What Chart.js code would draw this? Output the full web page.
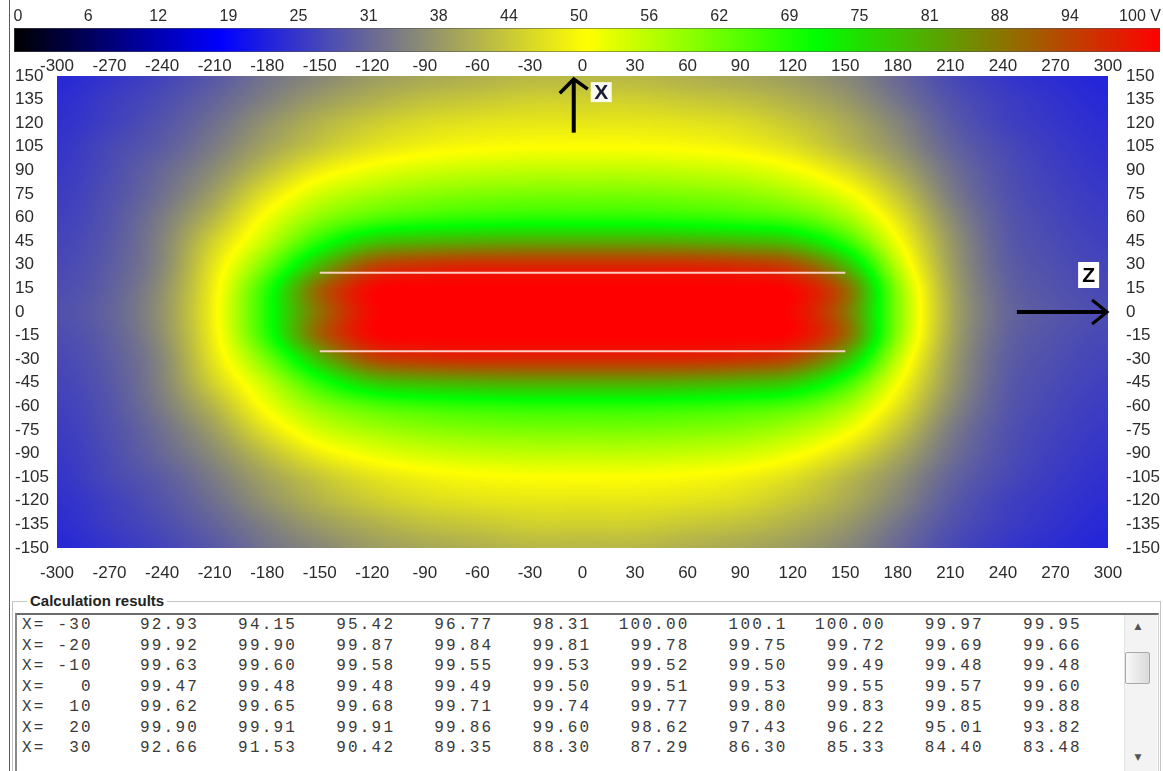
<!DOCTYPE html>
<html>
<head>
<meta charset="utf-8">
<title>Potential field around a charged strip</title>
<script src="https://cdn.jsdelivr.net/npm/chart.js@4.4.1/dist/chart.umd.min.js"></script>
<style>
  html, body { margin: 0; padding: 0; background: #fff; }
  #wrap { position: relative; width: 1163px; height: 771px; overflow: hidden; background: #fff; }
  #field, #scale { position: absolute; left: 0; top: 0; }
  #scale { pointer-events: none; }
  .frame { position: absolute; left: 9px; top: 0; width: 1px; height: 771px; background: #5a5a5a; }
  .group { position: absolute; left: 12px; top: 601px; width: 1147px; height: 190px;
           border-top: 1px solid #c4c4c4; border-left: 1px solid #c4c4c4; border-right: 1px solid #c4c4c4; }
  .groupTitle { position: absolute; left: 27px; top: 592px; padding: 0 3px; background: #fff;
                font: bold 15px "Liberation Sans", Arial, sans-serif; color: #222; line-height: 18px; }
  .list { position: absolute; left: 15px; top: 613px; width: 1141px; height: 180px; background: #fff;
          border-top: 2px solid #6a6a6a; border-left: 2px solid #8a8a8a; border-right: 1px solid #d0d0d0; }
  .cell { position: absolute; white-space: pre; font: 16px "Liberation Mono", "DejaVu Sans Mono", monospace;
          letter-spacing: 2.2px; color: #3a3a3a; line-height: 20px; }
  .sbar { position: absolute; left: 1124px; top: 615px; width: 32px; height: 160px; background: #f3f3f3;
          border-left: 1px solid #e4e4e4; }
  .thumb { position: absolute; left: 1125px; top: 652px; width: 23px; height: 30px; border: 1px solid #a8a8a8;
           border-radius: 2px; background: linear-gradient(90deg, #f8f8f8, #dadada); }
  .arrowGlyph { position: absolute; width: 24px; text-align: center; font: 9px "DejaVu Sans", sans-serif; color: #555; }
</style>
</head>
<body>
<div id="wrap">
  <canvas id="field" width="1163" height="590"></canvas>
  <canvas id="scale" width="1163" height="56"></canvas>
  <div class="frame"></div>
  <div class="group"></div>
  <div class="list"></div>
  <div class="groupTitle">Calculation results</div>
  <div id="rows"></div>
  <div class="sbar"></div>
  <div class="thumb"></div>
  <div class="arrowGlyph" style="left:1126px;top:621px;">&#9650;</div>
  <div class="arrowGlyph" style="left:1126px;top:752px;">&#9660;</div>
</div>
<script>
// ---- colour scale (volts) ----
const colorbarTicks  = [0, 6.25, 12.5, 18.75, 25, 31.25, 37.5, 43.75, 50, 56.25, 62.5, 68.75, 75, 81.25, 87.5, 93.75, 100];
const colorbarLabels = ['0', '6', '12', '19', '25', '31', '38', '44', '50', '56', '62', '69', '75', '81', '88', '94', '100 V'];

// ---- potential grid: Z along columns, X along rows (volts) ----
const zNodes = [-300, -270, -240, -210, -180, -150, -120, -90, -60, -30, 0, 30, 60, 90, 120, 150, 180, 210, 240, 270, 300];
const xNodes = [150, 135, 120, 105, 90, 75, 60, 45, 30, 15, 0, -15, -30, -45, -60, -75, -90, -105, -120, -135, -150];
const potential = [
  [23, 24.5, 26.5, 29, 32.5, 35, 37.5, 39, 40, 41, 41, 41, 40, 39, 37.5, 35, 31, 27.2, 24.8, 23.5, 22.5],
  [23.5, 25.5, 27.5, 30.5, 34, 37.5, 40, 42, 43, 44, 44, 44, 43, 42, 40, 37, 32.5, 28.3, 25.8, 24.2, 23],
  [24, 26, 28.5, 32, 36.5, 40.5, 43.5, 45.5, 46.5, 47, 47, 47, 46.5, 45.5, 43, 39.5, 34.6, 29.4, 26.3, 24.7, 23.5],
  [24.5, 27, 29.5, 33.5, 38.5, 43, 46.5, 48.5, 49.5, 50, 50, 50, 49.5, 48.5, 46, 41.5, 36.3, 30.6, 27.3, 25.3, 24],
  [25, 27.5, 31, 35.5, 42, 48, 51.5, 53.5, 54.5, 55, 55, 55, 54.5, 53.5, 51, 46, 39.2, 32.2, 28, 25.8, 24.5],
  [25.5, 28, 32, 38, 46.5, 53.5, 57, 59, 60, 60.5, 60.5, 60.5, 60, 59, 56.5, 51.5, 42.8, 33.6, 28.5, 26.3, 25],
  [26, 28.5, 33.5, 41, 51, 59, 63.5, 65.5, 66.5, 67, 67, 67, 66.5, 65.5, 63.5, 57.5, 46.7, 35.5, 29.2, 26.8, 25.5],
  [26.5, 29, 34.5, 44.5, 55, 67, 76, 78.5, 79.5, 80, 80, 80, 79.5, 78.5, 76, 66, 50.5, 37.2, 29.7, 27.3, 26],
  [27, 29.5, 35, 47, 61, 78, 91, 94, 95, 95, 95, 95, 95, 94, 91, 78, 54.9, 38.2, 30.2, 27.8, 26.5],
  [27.5, 30, 36, 48.5, 67, 88, 99, 100, 100, 100, 100, 100, 100, 100, 99, 88, 59, 39.3, 30.8, 28.3, 27],
  [28, 30.5, 36.5, 49, 68, 87, 99, 100, 100, 100, 100, 100, 100, 100, 99, 87, 59.8, 39.8, 31.3, 28.8, 27.5],
  [27.5, 30, 36, 48.5, 67, 88, 99, 100, 100, 100, 100, 100, 100, 100, 99, 88, 59, 39.3, 30.8, 28.3, 27],
  [27, 29.5, 35, 47, 61, 78, 91, 94, 95, 95, 95, 95, 95, 94, 91, 78, 54.9, 38.2, 30.2, 27.8, 26.5],
  [26.5, 29, 34.5, 44.5, 55, 67, 76, 78.5, 79.5, 80, 80, 80, 79.5, 78.5, 76, 66, 50.5, 37.2, 29.7, 27.3, 26],
  [26, 28.5, 33.5, 41, 51, 59, 63.5, 65.5, 66.5, 67, 67, 67, 66.5, 65.5, 63.5, 57.5, 46.7, 35.5, 29.2, 26.8, 25.5],
  [25.5, 28, 32, 38, 46.5, 53.5, 57, 59, 60, 60.5, 60.5, 60.5, 60, 59, 56.5, 51.5, 42.8, 33.6, 28.5, 26.3, 25],
  [25, 27.5, 31, 35.5, 42, 48, 51.5, 53.5, 54.5, 55, 55, 55, 54.5, 53.5, 51, 46, 39.2, 32.2, 28, 25.8, 24.5],
  [24.5, 27, 29.5, 33.5, 38.5, 43, 46.5, 48.5, 49.5, 50, 50, 50, 49.5, 48.5, 46, 41.5, 36.3, 30.6, 27.3, 25.3, 24],
  [24, 26, 28.5, 32, 36.5, 40.5, 43.5, 45.5, 46.5, 47, 47, 47, 46.5, 45.5, 43, 39.5, 34.6, 29.4, 26.3, 24.7, 23.5],
  [23.5, 25.5, 27.5, 30.5, 34, 37.5, 40, 42, 43, 44, 44, 44, 43, 42, 40, 37, 32.5, 28.3, 25.8, 24.2, 23],
  [23, 24.5, 26.5, 29, 32.5, 35, 37.5, 39, 40, 41, 41, 41, 40, 39, 37.5, 35, 31, 27.2, 24.8, 23.5, 22.5]
];

// ---- electrode outline (strip edges) ----
const stripZ = [-150, 150];
const stripUpperX = [25, 25];
const stripLowerX = [-25, -25];

// ---- calculation results table ----
const resultX = [-30, -20, -10, 0, 10, 20, 30];
const resultValues = [
  ['92.93', '94.15', '95.42', '96.77', '98.31', '100.00', '100.1', '100.00', '99.97', '99.95'],
  ['99.92', '99.90', '99.87', '99.84', '99.81', '99.78', '99.75', '99.72', '99.69', '99.66'],
  ['99.63', '99.60', '99.58', '99.55', '99.53', '99.52', '99.50', '99.49', '99.48', '99.48'],
  ['99.47', '99.48', '99.48', '99.49', '99.50', '99.51', '99.53', '99.55', '99.57', '99.60'],
  ['99.62', '99.65', '99.68', '99.71', '99.74', '99.77', '99.80', '99.83', '99.85', '99.88'],
  ['99.90', '99.91', '99.91', '99.86', '99.60', '98.62', '97.43', '96.22', '95.01', '93.82'],
  ['92.66', '91.53', '90.42', '89.35', '88.30', '87.29', '86.30', '85.33', '84.40', '83.48']
];

// colour map: black -> blue -> yellow -> green -> red
const colourStops = [[0, [0, 0, 0]], [0.18, [0, 0, 255]], [0.5, [255, 255, 0]], [0.7, [0, 255, 0]], [1, [255, 0, 0]]];

const tickFont = { family: '"Liberation Sans", Arial, sans-serif', size: 17 };
const tickColour = '#2b2b2b';

function colourAt(t, out) {
  if (t <= 0) t = 0; if (t >= 1) t = 1;
  for (let k = 1; k < colourStops.length; k++) {
    const [p1, c1] = colourStops[k];
    if (t <= p1) {
      const [p0, c0] = colourStops[k - 1];
      const f = (t - p0) / (p1 - p0);
      out[0] = c0[0] + (c1[0] - c0[0]) * f;
      out[1] = c0[1] + (c1[1] - c0[1]) * f;
      out[2] = c0[2] + (c1[2] - c0[2]) * f;
      return out;
    }
  }
  return out;
}

function cr(p0, p1, p2, p3, t) {
  return 0.5 * (2 * p1 + (-p0 + p2) * t + (2 * p0 - 5 * p1 + 4 * p2 - p3) * t * t + (-p0 + 3 * p1 - 3 * p2 + p3) * t * t * t);
}

// smooth (bicubic) shading of the gridded potential at a point
function shadeValue(z, xv) {
  const nz = zNodes.length, nx = xNodes.length;
  const gx = (z - zNodes[0]) / (zNodes[1] - zNodes[0]);
  const gy = (xv - xNodes[0]) / (xNodes[1] - xNodes[0]);
  let i = Math.floor(gx), j = Math.floor(gy);
  if (i < 0) i = 0; if (i > nz - 2) i = nz - 2;
  if (j < 0) j = 0; if (j > nx - 2) j = nx - 2;
  const tx = Math.min(1, Math.max(0, gx - i)), ty = Math.min(1, Math.max(0, gy - j));
  const cl = (a, n) => a < 0 ? 0 : (a > n - 1 ? n - 1 : a);
  const rowsV = [];
  for (let m = -1; m <= 2; m++) {
    const r = potential[cl(j + m, nx)];
    rowsV.push(cr(r[cl(i - 1, nz)], r[i], r[i + 1], r[cl(i + 2, nz)], tx));
  }
  let v = cr(rowsV[0], rowsV[1], rowsV[2], rowsV[3], ty);
  return v < 0 ? 0 : (v > 100 ? 100 : v);
}

const fieldShading = {
  id: 'fieldShading',
  beforeDatasetsDraw(chart) {
    const { ctx, chartArea: a, scales: { x, y } } = chart;
    const L = Math.round(a.left), T = Math.round(a.top);
    const W = Math.round(a.right) - L, H = Math.round(a.bottom) - T;
    const img = ctx.createImageData(W, H);
    const d = img.data;
    const zs = new Float64Array(W);
    for (let i = 0; i < W; i++) zs[i] = x.getValueForPixel(L + i + 0.5);
    const c = [0, 0, 0];
    for (let j = 0; j < H; j++) {
      const xv = y.getValueForPixel(T + j + 0.5);
      for (let i = 0; i < W; i++) {
        colourAt(shadeValue(zs[i], xv) / 100, c);
        const k = (j * W + i) * 4;
        d[k] = c[0]; d[k + 1] = c[1]; d[k + 2] = c[2]; d[k + 3] = 255;
      }
    }
    ctx.putImageData(img, L, T);
  }
};

// coordinate-axis arrows drawn in data units
const arrowX = { z: -5, from: 114, to: 148 };
const arrowZ = { x: 0, from: 248, to: 299.5 };

const axisArrows = {
  id: 'axisArrows',
  afterDatasetsDraw(chart) {
    const { ctx, scales: { x, y } } = chart;
    ctx.save();
    ctx.strokeStyle = '#000';
    ctx.lineWidth = 4;
    ctx.lineCap = 'butt';
    // X direction
    const ax = x.getPixelForValue(arrowX.z);
    const ay0 = y.getPixelForValue(arrowX.from), ay1 = y.getPixelForValue(arrowX.to);
    ctx.beginPath();
    ctx.moveTo(ax, ay0); ctx.lineTo(ax, ay1 + 1);
    ctx.stroke();
    ctx.lineWidth = 3.5;
    ctx.beginPath();
    ctx.moveTo(ax - 14, ay1 + 14); ctx.lineTo(ax, ay1); ctx.lineTo(ax + 14, ay1 + 10);
    ctx.stroke();
    // Z direction
    const bz0 = x.getPixelForValue(arrowZ.from), bz1 = x.getPixelForValue(arrowZ.to);
    const by = y.getPixelForValue(arrowZ.x);
    ctx.lineWidth = 4;
    ctx.beginPath();
    ctx.moveTo(bz0, by); ctx.lineTo(bz1 - 1, by);
    ctx.stroke();
    ctx.lineWidth = 3;
    ctx.beginPath();
    ctx.moveTo(bz1 - 15, by - 12); ctx.lineTo(bz1, by); ctx.lineTo(bz1 - 15, by + 12);
    ctx.stroke();
    // labels on small white boxes
    ctx.font = 'bold 21px "Liberation Sans", Arial, sans-serif';
    ctx.textAlign = 'center';
    ctx.textBaseline = 'middle';
    ctx.fillStyle = 'rgba(255,255,255,0.92)';
    ctx.fillRect(ax + 17, ay1 + 3, 21, 20);
    ctx.fillStyle = '#1b1b3a';
    ctx.fillText('X', ax + 27.5, ay1 + 14);
    ctx.fillStyle = '#fff';
    ctx.fillRect(bz1 - 29, by - 50, 21, 26);
    ctx.fillStyle = '#000';
    ctx.fillText('Z', bz1 - 18.5, by - 36);
    ctx.restore();
  }
};

const stripLine = { borderColor: 'rgba(255,214,204,0.95)', borderWidth: 2, pointRadius: 0, showLine: true, fill: false };

new Chart(document.getElementById('field'), {
  type: 'scatter',
  data: {
    datasets: [
      Object.assign({ data: stripZ.map((z, k) => ({ x: z, y: stripUpperX[k] })) }, stripLine),
      Object.assign({ data: stripZ.map((z, k) => ({ x: z, y: stripLowerX[k] })) }, stripLine)
    ]
  },
  options: {
    responsive: false,
    animation: false,
    events: [],
    layout: { padding: { left: 15, right: 0, top: 0, bottom: 0 } },
    plugins: { legend: { display: false }, tooltip: { enabled: false } },
    scales: {
      x: {
        type: 'linear', position: 'bottom', min: -300, max: 300,
        grid: { display: false }, border: { display: false },
        ticks: { stepSize: 30, padding: 7, autoSkip: false, maxRotation: 0, font: tickFont, color: tickColour },
        afterFit: s => { s.height = 42; }
      },
      x2: {
        type: 'linear', position: 'top', min: -300, max: 300,
        grid: { display: false }, border: { display: false },
        ticks: { stepSize: 30, padding: -9, autoSkip: false, maxRotation: 0, font: tickFont, color: tickColour },
        afterFit: s => { s.height = 76; }
      },
      y: {
        type: 'linear', position: 'left', min: -150, max: 150,
        grid: { display: false }, border: { display: false },
        ticks: { stepSize: 15, padding: 0, crossAlign: 'far', autoSkip: false, font: tickFont, color: tickColour },
        afterFit: s => { s.width = 42; }
      },
      y2: {
        type: 'linear', position: 'right', min: -150, max: 150,
        grid: { display: false }, border: { display: false },
        ticks: { stepSize: 15, padding: 10, autoSkip: false, font: tickFont, color: tickColour },
        afterFit: s => { s.width = 55; }
      }
    }
  },
  plugins: [fieldShading, axisArrows]
});

// colour bar with its volt scale
const colourBar = {
  id: 'colourBar',
  beforeDatasetsDraw(chart) {
    const { ctx, chartArea: a } = chart;
    const x0 = a.left - 4, x1 = a.right + 20;
    const g = ctx.createLinearGradient(x0, 0, x1, 0);
    colourStops.forEach(([p, c]) => g.addColorStop(p, 'rgb(' + c.join(',') + ')'));
    ctx.save();
    ctx.fillStyle = g;
    ctx.fillRect(x0, a.top, x1 - x0, a.bottom - a.top);
    ctx.strokeStyle = 'rgba(80,80,80,0.55)';
    ctx.lineWidth = 1;
    ctx.strokeRect(x0 + 0.5, a.top + 0.5, x1 - x0 - 1, a.bottom - a.top - 1);
    ctx.restore();
  }
};

new Chart(document.getElementById('scale'), {
  type: 'scatter',
  data: { datasets: [] },
  options: {
    responsive: false,
    animation: false,
    events: [],
    layout: { padding: { left: 18, right: 23, top: 0, bottom: 4 } },
    plugins: { legend: { display: false }, tooltip: { enabled: false } },
    scales: {
      x: {
        type: 'linear', position: 'top', min: 0, max: 100,
        grid: { display: false }, border: { display: false },
        afterBuildTicks: s => { s.ticks = colorbarTicks.map(v => ({ value: v })); },
        afterFit: s => { s.height = 28; },
        ticks: {
          padding: -6, autoSkip: false, maxRotation: 0, color: tickColour,
          font: { family: '"Liberation Sans", Arial, sans-serif', size: 16 },
          callback: (v, i) => colorbarLabels[i]
        }
      },
      y: { display: false, min: 0, max: 1 }
    }
  },
  plugins: [colourBar]
});

// results list
(function () {
  const host = document.getElementById('rows');
  const colRight = 197, colStep = 98.1, rowMid = 625, rowStep = 20.5;
  resultX.forEach((xv, r) => {
    const top = rowMid + rowStep * r - 10;
    const lab = document.createElement('div');
    lab.className = 'cell';
    lab.style.left = '22px';
    lab.style.top = top + 'px';
    lab.textContent = 'X=' + String(xv).padStart(4, ' ');
    host.appendChild(lab);
    resultValues[r].forEach((val, c) => {
      const el = document.createElement('div');
      el.className = 'cell';
      el.style.right = (1163 - (colRight + colStep * c) - 2) + 'px';
      el.style.top = top + 'px';
      el.textContent = val;
      host.appendChild(el);
    });
  });
})();
</script>
</body>
</html>
